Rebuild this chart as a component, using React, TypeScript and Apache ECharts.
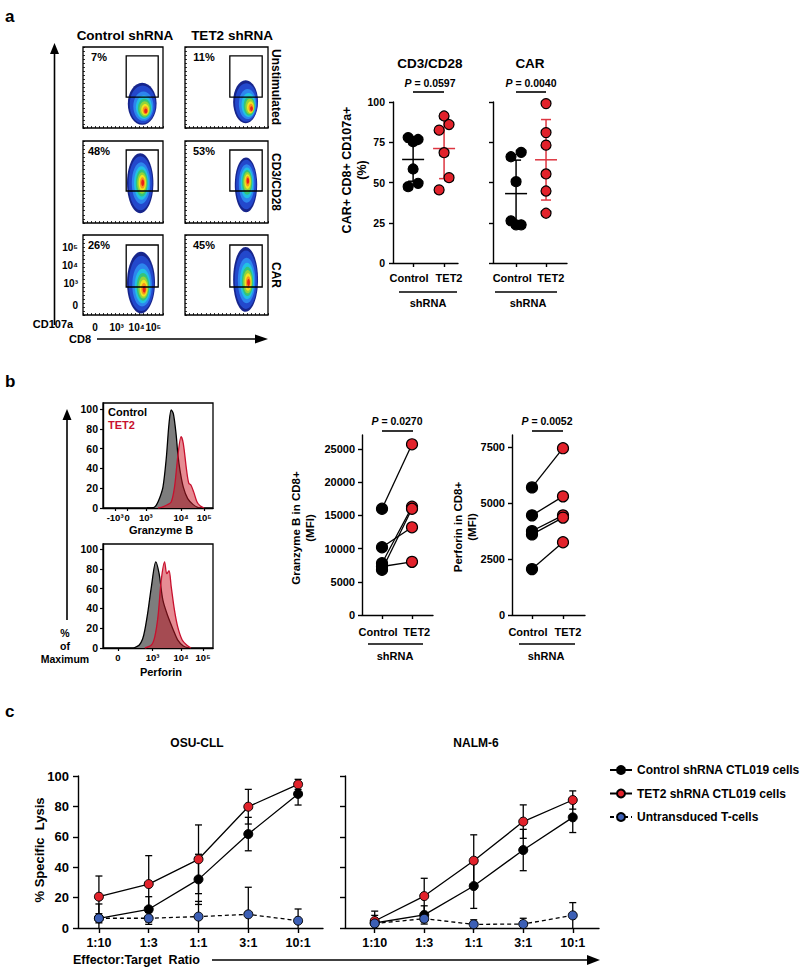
import React, { useEffect, useRef } from "react";
import * as echarts from "echarts";

const FONT = "'Liberation Sans', Arial, Helvetica, sans-serif";
const RED = "#e2222b";
const RED_LINE = "#dd3540";
const BLUE = "#3c5fb5";
const HIST_GRAY = "#7d7d7d";
const HIST_RED_LINE = "#c8102e";
const HIST_RED_FILL = "rgba(205,25,40,0.5)";

// ---------- panel a: flow plots ----------
const flowColumnTitles = ["Control shRNA", "TET2 shRNA"];
const flowRowTitles = ["Unstimulated", "CD3/CD28", "CAR"];
const flowPercents = ["7%", "11%", "48%", "53%", "26%", "45%"];
// gate: [xMin, yMin, xMax, yMax]
const flowGates = [
  [54, 38, 94, 89], [54, 38, 93, 89],
  [54, 39, 94, 89], [54, 39, 93, 89],
  [54, 35, 94, 87.5], [54, 35, 93, 87.5],
];
// blob: [cx, cy, rx, ry, coreX, coreY]
const flowBlobs = [
  [74, 30, 18, 26, 79, 20],
  [73, 32.5, 15, 26.5, 81, 23],
  [71.5, 48.5, 16.5, 36.5, 75, 49],
  [73.5, 46.5, 13.5, 33.5, 76, 52],
  [72.5, 40.5, 17.5, 38.5, 77, 31],
  [73, 44.5, 15, 40.5, 77, 40],
];
const flowXTickValues = [15, 42, 67, 88];
const flowYTickValues = [12.5, 40, 62.5, 85];
const flowTickLabels = ["0", "10³", "10⁴", "10⁵"];
const FLOW_COLORS = ["#17258c", "#2348cc", "#2d86ee", "#22c1e3", "#33c47a", "#93d43a", "#f3e420", "#f7941d", "#e8201a"];
const FLOW_SCALES = [1, 0.9, 0.7, 0.56, 0.45, 0.36, 0.27, 0.19, 0.11];

// ---------- panel a: dot plots ----------
const shCategories = ["Control", "TET2"];
const shLabelPositions = [-0.13, 1.16];
const dotTitles = ["CD3/CD28", "CAR"];
const dotPValues = ["0.0597", "0.0040"];
const cd3ControlVals = [77.9, 75.3, 76.7, 58.4, 47.4, 49.5];
const cd3ControlJitter = [-0.16, 0, 0.16, 0, -0.16, 0.16];
const cd3Tet2Vals = [91.3, 86, 82.5, 68.5, 53, 45.4];
const cd3Tet2Jitter = [0, 0.16, -0.16, 0, 0.16, -0.16];
const carControlVals = [66, 68.7, 50.5, 26.2, 23.7, 23.7];
const carControlJitter = [-0.17, 0.17, 0, -0.17, 0, 0.17];
const carTet2Vals = [99, 81, 73.2, 55.3, 44.7, 30.9];
const carTet2Jitter = [0, 0, 0, 0, 0, 0];
const cd3MeanSd = [[64.3, 13.5], [71.1, 18.7]];
const carMeanSd = [[43.1, 20.8], [64.1, 25]];

// ---------- panel b: histograms ----------
const granzTickValues = [11, 22, 39, 71, 92];
const granzTickLabels = ["-10³", "0", "10³", "10⁴", "10⁵"];
const perfTickValues = [13.6, 45, 71, 91];
const perfTickLabels = ["0", "10³", "10⁴", "10⁵"];
const histYTicks = [0, 20, 40, 60, 80, 100];
const granzCtrlX = [40, 46, 48.5, 51.5, 54.5, 57.5, 60, 62, 64, 66.5, 68, 70, 73, 77, 82, 86, 90];
const granzCtrlY = [0, 0.5, 3, 10, 21, 50, 85, 99, 95, 74, 55, 38, 21, 9.5, 3.4, 0.7, 0];
const granzTetX = [50, 55, 58, 62, 65, 68, 71, 73, 76, 78, 80, 82.5, 85.5, 88.5, 92];
const granzTetY = [0, 1.5, 3, 6, 21, 52, 72, 65, 38, 25, 23, 16, 6, 2, 0];
const perfCtrlX = [28, 33, 36, 38, 41, 44, 48, 51, 54.5, 59, 64, 68, 73, 78];
const perfCtrlY = [0, 3, 9, 18, 38, 62, 87, 75, 48, 32, 18, 8, 2, 0];
const perfTetX = [38, 44, 47, 50, 53, 56, 58, 60, 62, 65, 68, 72, 76, 80];
const perfTetY = [0, 3, 11, 32, 69, 87, 75, 78, 62, 38, 21, 8, 3, 0];

// ---------- panel b: paired MFI ----------
const granzControl = [16000, 10200, 7800, 6800, 7300];
const granzTet2 = [25700, 13200, 16300, 16000, 8000];
const perfControl = [5700, 4450, 3750, 3600, 2050];
const perfTet2 = [7450, 5300, 4450, 4350, 3250];
const granzYTicks = [0, 5000, 10000, 15000, 20000, 25000];
const perfYTicks = [0, 2500, 5000, 7500];
const pairedPValues = ["0.0270", "0.0052"];

// ---------- panel c: lysis ----------
const ratios = ["1:10", "1:3", "1:1", "3:1", "10:1"];
const seriesNames = ["Control shRNA CTL019 cells", "TET2 shRNA CTL019 cells", "Untransduced T-cells"];
const osuControl = [6.4, 12.3, 32, 61.8, 88.2];
const osuControlSd = [9.4, 8.3, 16.5, 11, 7.3];
const osuTet2 = [20.6, 28.9, 45.2, 79.8, 94.5];
const osuTet2Sd = [13.6, 18.7, 22.6, 11.4, 3.3];
const osuUntr = [6.4, 6.4, 7.5, 9, 4.8];
const osuUntrSd = [3, 4, 10, 17.8, 7.7];
const osuP = ["0.0643", "0.0215", "0.0456", "0.0023", "0.0369"];
const nalmControl = [3.3, 8.6, 27.6, 51.3, 72.8];
const nalmControlSd = [5, 6, 14.7, 13.6, 10];
const nalmTet2 = [4.6, 21, 44.3, 70, 84.2];
const nalmTet2Sd = [6.5, 11.7, 17, 11, 6];
const nalmUntr = [3, 6.1, 2.4, 2.6, 8.3];
const nalmUntrSd = [2, 2, 3, 3.8, 8.4];
const nalmP = ["0.4226", "0.0476", "0.0091", "0.0066", "0.0611"];

// ---------- helpers ----------
const txtStyle = (size: number, extra: any = {}) => ({
  color: "#000", fontFamily: FONT, fontWeight: "bold", fontSize: size, ...extra,
});
const LABEL_FLAGS = { showMinLabel: true, showMaxLabel: true, hideOverlap: false };
const nearestLabel = (vals: number[], labels: string[]) => (v: number) => {
  let bi = 0;
  vals.forEach((x, i) => { if (Math.abs(x - v) < Math.abs(vals[bi] - v)) bi = i; });
  return labels[bi];
};
const AX_LINE = { show: true, onZero: false, lineStyle: { color: "#000", width: 1.4 } };

function gText(x: number, y: number, text: string, size: number, o: any = {}) {
  return {
    type: "text", x, y, rotation: o.rot || 0, silent: true, z: 100,
    style: {
      text, fill: o.color || "#000", fontFamily: FONT, fontWeight: "bold", fontSize: size,
      align: o.align || "center", verticalAlign: "middle", lineHeight: o.lineHeight,
      rich: o.rich,
    },
  };
}
function pText(x: number, y: number, p: string, size: number) {
  return gText(x, y, `{i|P} = ${p}`, size, {
    rich: { i: { fontStyle: "italic", fontWeight: "bold", fontSize: size, fontFamily: FONT, fill: "#000" } },
  });
}
function gLine(x1: number, y1: number, x2: number, y2: number, w = 1.4) {
  return { type: "line", silent: true, z: 100, shape: { x1, y1, x2, y2 }, style: { stroke: "#000", lineWidth: w } };
}
function gPoly(points: number[][]) {
  return { type: "polygon", silent: true, z: 100, shape: { points }, style: { fill: "#000" } };
}

function buildOption() {
  const grids: any[] = [];
  const xAxes: any[] = [];
  const yAxes: any[] = [];
  const series: any[] = [];
  const base = { containLabel: false, outerBoundsMode: "none" };
  const shLabel = nearestLabel(shLabelPositions, shCategories);

  // ---- flow plots (0..5)
  const flowBoxes = [
    [83, 47, 80, 81], [185, 47, 83, 81],
    [83, 141, 80, 82], [185, 141, 83, 82],
    [83, 235, 80, 80], [185, 235, 83, 80],
  ];
  flowBoxes.forEach((b, i) => {
    grids.push({ ...base, left: b[0], top: b[1], width: b[2], height: b[3], show: true, borderColor: "#000", borderWidth: 1.3, backgroundColor: "#fff" });
    xAxes.push({
      gridIndex: i, type: "value", min: 0, max: 100, interval: 5,
      axisLine: { show: false }, splitLine: { show: false },
      axisTick: { show: true, inside: true, length: 2, lineStyle: { color: "#000", width: 0.8 } },
      axisLabel: i === 4
        ? { show: true, ...LABEL_FLAGS, customValues: flowXTickValues, formatter: nearestLabel(flowXTickValues, flowTickLabels), margin: 7, ...txtStyle(10) }
        : { show: false },
    });
    yAxes.push({
      gridIndex: i, type: "value", min: 0, max: 100, interval: 5,
      axisLine: { show: false }, splitLine: { show: false },
      axisTick: { show: true, inside: true, length: 2, lineStyle: { color: "#000", width: 0.8 } },
      axisLabel: i === 4
        ? { show: true, ...LABEL_FLAGS, customValues: flowYTickValues, formatter: nearestLabel(flowYTickValues, flowTickLabels), margin: 5, ...txtStyle(10) }
        : { show: false },
    });
    series.push({
      type: "custom", xAxisIndex: i, yAxisIndex: i, silent: true, z: 2,
      data: [flowBlobs[i]],
      renderItem: (_p: any, api: any) => {
        const c = api.coord([api.value(0), api.value(1)]);
        const k = api.coord([api.value(4), api.value(5)]);
        const s = api.size([api.value(2), api.value(3)]);
        return {
          type: "group",
          children: FLOW_COLORS.map((fill, j) => {
            const sc = FLOW_SCALES[j];
            const t = 1 - sc;
            return {
              type: "ellipse",
              shape: { cx: c[0] + (k[0] - c[0]) * t, cy: c[1] + (k[1] - c[1]) * t, rx: s[0] * sc, ry: s[1] * sc },
              style: { fill },
            };
          }),
        };
      },
    });
    series.push({
      type: "custom", xAxisIndex: i, yAxisIndex: i, silent: true, z: 3,
      data: [flowGates[i]],
      renderItem: (_p: any, api: any) => {
        const a = api.coord([api.value(0), api.value(3)]);
        const b2 = api.coord([api.value(2), api.value(1)]);
        return {
          type: "rect",
          shape: { x: a[0], y: a[1], width: b2[0] - a[0], height: b2[1] - a[1] },
          style: { fill: "none", stroke: "#000", lineWidth: 1.3 },
        };
      },
    });
  });

  // ---- dot plots (6, 7)
  const dotBoxes = [[393, 102, 65, 161, -0.65, 1.45], [493, 102, 74, 161, -0.77, 1.7]];
  const dotSets = [
    { c: cd3ControlVals, cj: cd3ControlJitter, t: cd3Tet2Vals, tj: cd3Tet2Jitter, ms: cd3MeanSd },
    { c: carControlVals, cj: carControlJitter, t: carTet2Vals, tj: carTet2Jitter, ms: carMeanSd },
  ];
  dotBoxes.forEach((b, k) => {
    const gi = 6 + k;
    grids.push({ ...base, left: b[0], top: b[1], width: b[2], height: b[3] });
    xAxes.push({
      gridIndex: gi, type: "value", min: b[4], max: b[5],
      axisLine: AX_LINE, splitLine: { show: false },
      axisTick: { show: true, customValues: [0, 1], length: 4, lineStyle: { color: "#000", width: 1.4 } },
      axisLabel: { ...LABEL_FLAGS, customValues: shLabelPositions, formatter: shLabel, margin: 9, ...txtStyle(11) },
    });
    yAxes.push({
      gridIndex: gi, type: "value", min: 0, max: 100, interval: 25,
      axisLine: AX_LINE, splitLine: { show: false },
      axisTick: { show: true, length: 4, lineStyle: { color: "#000", width: 1.4 } },
      axisLabel: k === 0 ? { show: true, ...LABEL_FLAGS, margin: 8, ...txtStyle(10.5) } : { show: false },
    });
    const d = dotSets[k];
    series.push({
      type: "custom", xAxisIndex: gi, yAxisIndex: gi, silent: true, z: 3,
      data: d.ms.map((m, i) => [i, m[0], m[1]]),
      renderItem: (p: any, api: any) => {
        const x = api.value(0), m = api.value(1), sd = api.value(2);
        const col = p.dataIndex === 0 ? "#000" : RED_LINE;
        const pm = api.coord([x, m]);
        const pt = api.coord([x, m + sd]);
        const pb = api.coord([x, m - sd]);
        const st = { stroke: col, lineWidth: 1.5 };
        return {
          type: "group",
          children: [
            { type: "line", shape: { x1: pt[0], y1: pt[1], x2: pb[0], y2: pb[1] }, style: st },
            { type: "line", shape: { x1: pm[0] - 11, y1: pm[1], x2: pm[0] + 11, y2: pm[1] }, style: st },
            { type: "line", shape: { x1: pt[0] - 5, y1: pt[1], x2: pt[0] + 5, y2: pt[1] }, style: st },
            { type: "line", shape: { x1: pb[0] - 5, y1: pb[1], x2: pb[0] + 5, y2: pb[1] }, style: st },
          ],
        };
      },
    });
    series.push({
      type: "scatter", xAxisIndex: gi, yAxisIndex: gi, silent: true, z: 4, symbolSize: 10,
      data: d.c.map((v, i) => [0 + d.cj[i], v]),
      itemStyle: { color: "#000", borderColor: "#000", borderWidth: 1.2, opacity: 1 },
    });
    series.push({
      type: "scatter", xAxisIndex: gi, yAxisIndex: gi, silent: true, z: 4, symbolSize: 10,
      data: d.t.map((v, i) => [1 + d.tj[i], v]),
      itemStyle: { color: RED, borderColor: "#000", borderWidth: 1.2, opacity: 1 },
    });
  });

  // ---- histograms (8, 9)
  const histBoxes = [[103, 403, 110, 105, 106], [103, 544, 110, 104, 105]];
  const histSets = [
    { tv: granzTickValues, tl: granzTickLabels, cx: granzCtrlX, cy: granzCtrlY, tx: granzTetX, ty: granzTetY },
    { tv: perfTickValues, tl: perfTickLabels, cx: perfCtrlX, cy: perfCtrlY, tx: perfTetX, ty: perfTetY },
  ];
  histBoxes.forEach((b, k) => {
    const gi = 8 + k;
    const h = histSets[k];
    grids.push({ ...base, left: b[0], top: b[1], width: b[2], height: b[3], show: true, borderColor: "#000", borderWidth: 1.3 });
    xAxes.push({
      gridIndex: gi, type: "value", min: 0, max: 100,
      axisLine: AX_LINE, splitLine: { show: false },
      axisTick: { show: true, customValues: h.tv, length: 3, lineStyle: { color: "#000", width: 1.2 } },
      axisLabel: { ...LABEL_FLAGS, customValues: h.tv, formatter: nearestLabel(h.tv, h.tl), margin: 4, ...txtStyle(9.5) },
    });
    yAxes.push({
      gridIndex: gi, type: "value", min: 0, max: b[4],
      axisLine: AX_LINE, splitLine: { show: false },
      axisTick: { show: true, customValues: histYTicks, length: 3, lineStyle: { color: "#000", width: 1.2 } },
      axisLabel: { ...LABEL_FLAGS, customValues: histYTicks, margin: 5, ...txtStyle(10.5) },
    });
    series.push({
      type: "line", xAxisIndex: gi, yAxisIndex: gi, silent: true, z: 2, smooth: 0.3, symbol: "none",
      data: h.cx.map((x, i) => [x, h.cy[i]]),
      lineStyle: { color: "#000", width: 1.3 },
      areaStyle: { color: HIST_GRAY, opacity: 1 },
    });
    series.push({
      type: "line", xAxisIndex: gi, yAxisIndex: gi, silent: true, z: 3, smooth: 0.3, symbol: "none",
      data: h.tx.map((x, i) => [x, h.ty[i]]),
      lineStyle: { color: HIST_RED_LINE, width: 1.3 },
      areaStyle: { color: HIST_RED_FILL, opacity: 1 },
    });
  });

  // ---- paired (10, 11)
  const pairBoxes = [[362, 435, 71, 180, -0.667, 1.7, 27100], [512, 435, 73, 180, -0.645, 1.71, 8040]];
  const pairSets = [
    { c: granzControl, t: granzTet2, ticks: granzYTicks },
    { c: perfControl, t: perfTet2, ticks: perfYTicks },
  ];
  pairBoxes.forEach((b, k) => {
    const gi = 10 + k;
    const d = pairSets[k];
    grids.push({ ...base, left: b[0], top: b[1], width: b[2], height: b[3] });
    xAxes.push({
      gridIndex: gi, type: "value", min: b[4], max: b[5],
      axisLine: AX_LINE, splitLine: { show: false },
      axisTick: { show: true, customValues: [0, 1], length: 4, lineStyle: { color: "#000", width: 1.4 } },
      axisLabel: { ...LABEL_FLAGS, customValues: shLabelPositions, formatter: shLabel, margin: 11, ...txtStyle(11) },
    });
    yAxes.push({
      gridIndex: gi, type: "value", min: 0, max: b[6],
      axisLine: AX_LINE, splitLine: { show: false },
      axisTick: { show: true, customValues: d.ticks, length: 4, lineStyle: { color: "#000", width: 1.4 } },
      axisLabel: { ...LABEL_FLAGS, customValues: d.ticks, formatter: (v: number) => String(v), margin: 7, ...txtStyle(11) },
    });
    d.c.forEach((c, i) => {
      series.push({
        type: "line", xAxisIndex: gi, yAxisIndex: gi, silent: true, z: 2, symbol: "none",
        data: [[0, c], [1, d.t[i]]], lineStyle: { color: "#000", width: 1.3 },
      });
    });
    series.push({
      type: "scatter", xAxisIndex: gi, yAxisIndex: gi, silent: true, z: 4, symbolSize: 11,
      data: d.c.map((v) => [0, v]),
      itemStyle: { color: "#000", borderColor: "#000", borderWidth: 1.2, opacity: 1 },
    });
    series.push({
      type: "scatter", xAxisIndex: gi, yAxisIndex: gi, silent: true, z: 4, symbolSize: 11,
      data: d.t.map((v) => [1, v]),
      itemStyle: { color: RED, borderColor: "#000", borderWidth: 1.2, opacity: 1 },
    });
  });

  // ---- lysis (12, 13)
  const lysisBoxes = [[78, 776, 245, 152, -0.42, 4.5], [345, 776, 254, 152, -0.6, 4.53]];
  const lysisSets = [
    { vals: [osuControl, osuTet2, osuUntr], sds: [osuControlSd, osuTet2Sd, osuUntrSd], p: osuP },
    { vals: [nalmControl, nalmTet2, nalmUntr], sds: [nalmControlSd, nalmTet2Sd, nalmUntrSd], p: nalmP },
  ];
  const lysisColors = ["#000", RED, BLUE];
  lysisBoxes.forEach((b, k) => {
    const gi = 12 + k;
    const d = lysisSets[k];
    grids.push({ ...base, left: b[0], top: b[1], width: b[2], height: b[3] });
    xAxes.push({
      gridIndex: gi, type: "value", min: b[4], max: b[5],
      axisLine: AX_LINE, splitLine: { show: false },
      axisTick: { show: true, customValues: [0, 1, 2, 3, 4], length: 5, lineStyle: { color: "#000", width: 1.4 } },
      axisLabel: { ...LABEL_FLAGS, customValues: [0, 1, 2, 3, 4], formatter: (v: number) => ratios[Math.round(v)], margin: 8, ...txtStyle(12.5) },
    });
    yAxes.push({
      gridIndex: gi, type: "value", min: 0, max: 100, interval: 20,
      axisLine: AX_LINE, splitLine: { show: false },
      axisTick: { show: true, length: 5, lineStyle: { color: "#000", width: 1.4 } },
      axisLabel: k === 0 ? { show: true, ...LABEL_FLAGS, margin: 9, ...txtStyle(13) } : { show: false },
    });
    d.vals.forEach((vals, s) => {
      series.push({
        type: "custom", xAxisIndex: gi, yAxisIndex: gi, silent: true, z: 2,
        data: vals.map((v, i) => [i, v, d.sds[s][i]]),
        renderItem: (_p: any, api: any) => {
          const x = api.value(0), m = api.value(1), sd = api.value(2);
          const lo = Math.max(0, m - sd);
          const pt = api.coord([x, m + sd]);
          const pb = api.coord([x, lo]);
          const st = { stroke: "#000", lineWidth: 1.3 };
          const ch: any[] = [
            { type: "line", shape: { x1: pt[0], y1: pt[1], x2: pb[0], y2: pb[1] }, style: st },
            { type: "line", shape: { x1: pt[0] - 3.5, y1: pt[1], x2: pt[0] + 3.5, y2: pt[1] }, style: st },
          ];
          if (m - sd > 0) ch.push({ type: "line", shape: { x1: pb[0] - 3.5, y1: pb[1], x2: pb[0] + 3.5, y2: pb[1] }, style: st });
          return { type: "group", children: ch };
        },
      });
    });
    d.vals.forEach((vals, s) => {
      series.push({
        type: "line", name: seriesNames[s], xAxisIndex: gi, yAxisIndex: gi, z: 3,
        data: vals.map((v, i) => [i, v]),
        symbol: "circle", symbolSize: 9, showSymbol: true,
        itemStyle: { color: lysisColors[s], borderColor: "#000", borderWidth: 1 },
        lineStyle: { color: "#000", width: 1.3, type: s === 2 ? [4, 3] : "solid" },
      });
    });
    series.push({
      type: "scatter", xAxisIndex: gi, yAxisIndex: gi, silent: true, z: 5, clip: false,
      data: d.vals[1].map((v, i) => [i, v + d.sds[1][i]]),
      symbolSize: 1, itemStyle: { opacity: 0 },
      label: {
        show: true, position: "top", distance: 4,
        formatter: (p: any) => `{i|P} = ${d.p[p.dataIndex]}`,
        ...txtStyle(10),
        rich: { i: { fontStyle: "italic", fontWeight: "bold", fontSize: 10, fontFamily: FONT, color: "#000" } },
      },
    });
  });

  // ---- graphics
  const g: any[] = [];
  g.push(gText(5, 16, "a", 17, { align: "left" }));
  g.push(gText(5, 381, "b", 17, { align: "left" }));
  g.push(gText(5, 711, "c", 17, { align: "left" }));

  g.push(gText(125, 35, flowColumnTitles[0], 13.5));
  g.push(gText(232, 35, flowColumnTitles[1], 13.5));
  [87, 182, 275].forEach((y, i) => g.push(gText(276, y, flowRowTitles[i], 12, { rot: -Math.PI / 2 })));
  [57, 151, 245].forEach((y, r) => {
    g.push(gText(99, y, flowPercents[r * 2], 11));
    g.push(gText(204, y, flowPercents[r * 2 + 1], 11));
  });
  g.push(gText(53, 324, "CD107a", 11));
  g.push(gText(80, 339, "CD8", 11));
  g.push(gLine(54.5, 325, 54.5, 52, 1.6));
  g.push(gPoly([[54.5, 43], [50, 54], [59, 54]]));
  g.push(gLine(97, 339, 258, 339, 1.6));
  g.push(gPoly([[268, 339], [255, 334.5], [255, 343.5]]));

  g.push(gText(430, 63, dotTitles[0], 13.5));
  g.push(gText(530, 63, dotTitles[1], 13.5));
  g.push(pText(430, 83, dotPValues[0], 10.5));
  g.push(pText(531, 83, dotPValues[1], 10.5));
  g.push(gLine(413, 92, 444, 92, 1.6));
  g.push(gLine(516, 92, 546, 92, 1.6));
  g.push(gLine(399, 292, 457, 292, 1.4));
  g.push(gLine(495, 292, 557, 292, 1.4));
  g.push(gText(428, 303, "shRNA", 11));
  g.push(gText(528, 303, "shRNA", 11));
  g.push(gText(354, 170, "CAR+ CD8+ CD107a+\n(%)", 12.5, { rot: Math.PI / 2, lineHeight: 15 }));

  g.push(gText(108, 412, "Control", 11, { align: "left" }));
  g.push(gText(108, 425, "TET2", 11, { align: "left", color: HIST_RED_LINE }));
  g.push(gText(161, 530, "Granzyme B", 11));
  g.push(gText(161, 672, "Perforin", 11));
  g.push(gText(65, 633, "%", 10.5));
  g.push(gText(65, 646, "of", 10.5));
  g.push(gText(65, 659, "Maximum", 10.5));
  g.push(gLine(67, 620, 67, 418, 1.6));
  g.push(gPoly([[67, 409], [62.5, 420], [71.5, 420]]));

  g.push(pText(397, 421, pairedPValues[0], 10.5));
  g.push(pText(547, 421, pairedPValues[1], 10.5));
  g.push(gLine(382, 431, 413, 431, 1.6));
  g.push(gLine(532, 431, 563, 431, 1.6));
  g.push(gLine(368, 644, 423, 644, 1.4));
  g.push(gLine(519, 644, 575, 644, 1.4));
  g.push(gText(395, 656, "shRNA", 11));
  g.push(gText(546, 656, "shRNA", 11));
  g.push(gText(303, 528, "Granzyme B in CD8+\n(MFI)", 11.5, { rot: Math.PI / 2, lineHeight: 14 }));
  g.push(gText(465, 527, "Perforin in CD8+\n(MFI)", 11.5, { rot: Math.PI / 2, lineHeight: 14 }));

  g.push(gText(197, 743, "OSU-CLL", 12));
  g.push(gText(476, 743, "NALM-6", 12));
  g.push(gText(39, 850, "% Specific  Lysis", 13, { rot: Math.PI / 2 }));
  g.push(gText(73, 960, "Effector:Target  Ratio", 12.5, { align: "left" }));
  g.push(gLine(212, 960, 590, 960, 1.6));
  g.push(gPoly([[600, 960], [587, 955], [587, 965]]));

  return {
    animation: false,
    backgroundColor: "#fff",
    textStyle: { fontFamily: FONT },
    grid: grids,
    xAxis: xAxes,
    yAxis: yAxes,
    series,
    legend: {
      data: seriesNames, orient: "vertical", left: 604, top: 759,
      itemWidth: 22, itemHeight: 10, itemGap: 11.5, selectedMode: false,
      textStyle: { color: "#000", fontFamily: FONT, fontWeight: "bold", fontSize: 12 },
    },
    graphic: g,
  };
}

export default function App() {
  const ref = useRef<HTMLDivElement>(null);
  useEffect(() => {
    document.body.style.margin = "0";
    const chart = echarts.init(ref.current!, null, { renderer: "svg" });
    chart.setOption(buildOption() as any);
    return () => chart.dispose();
  }, []);
  return (
    <div
      ref={ref}
      style={{ position: "absolute", left: 0, top: 0, width: 800, height: 971, background: "#fff" }}
    />
  );
}
